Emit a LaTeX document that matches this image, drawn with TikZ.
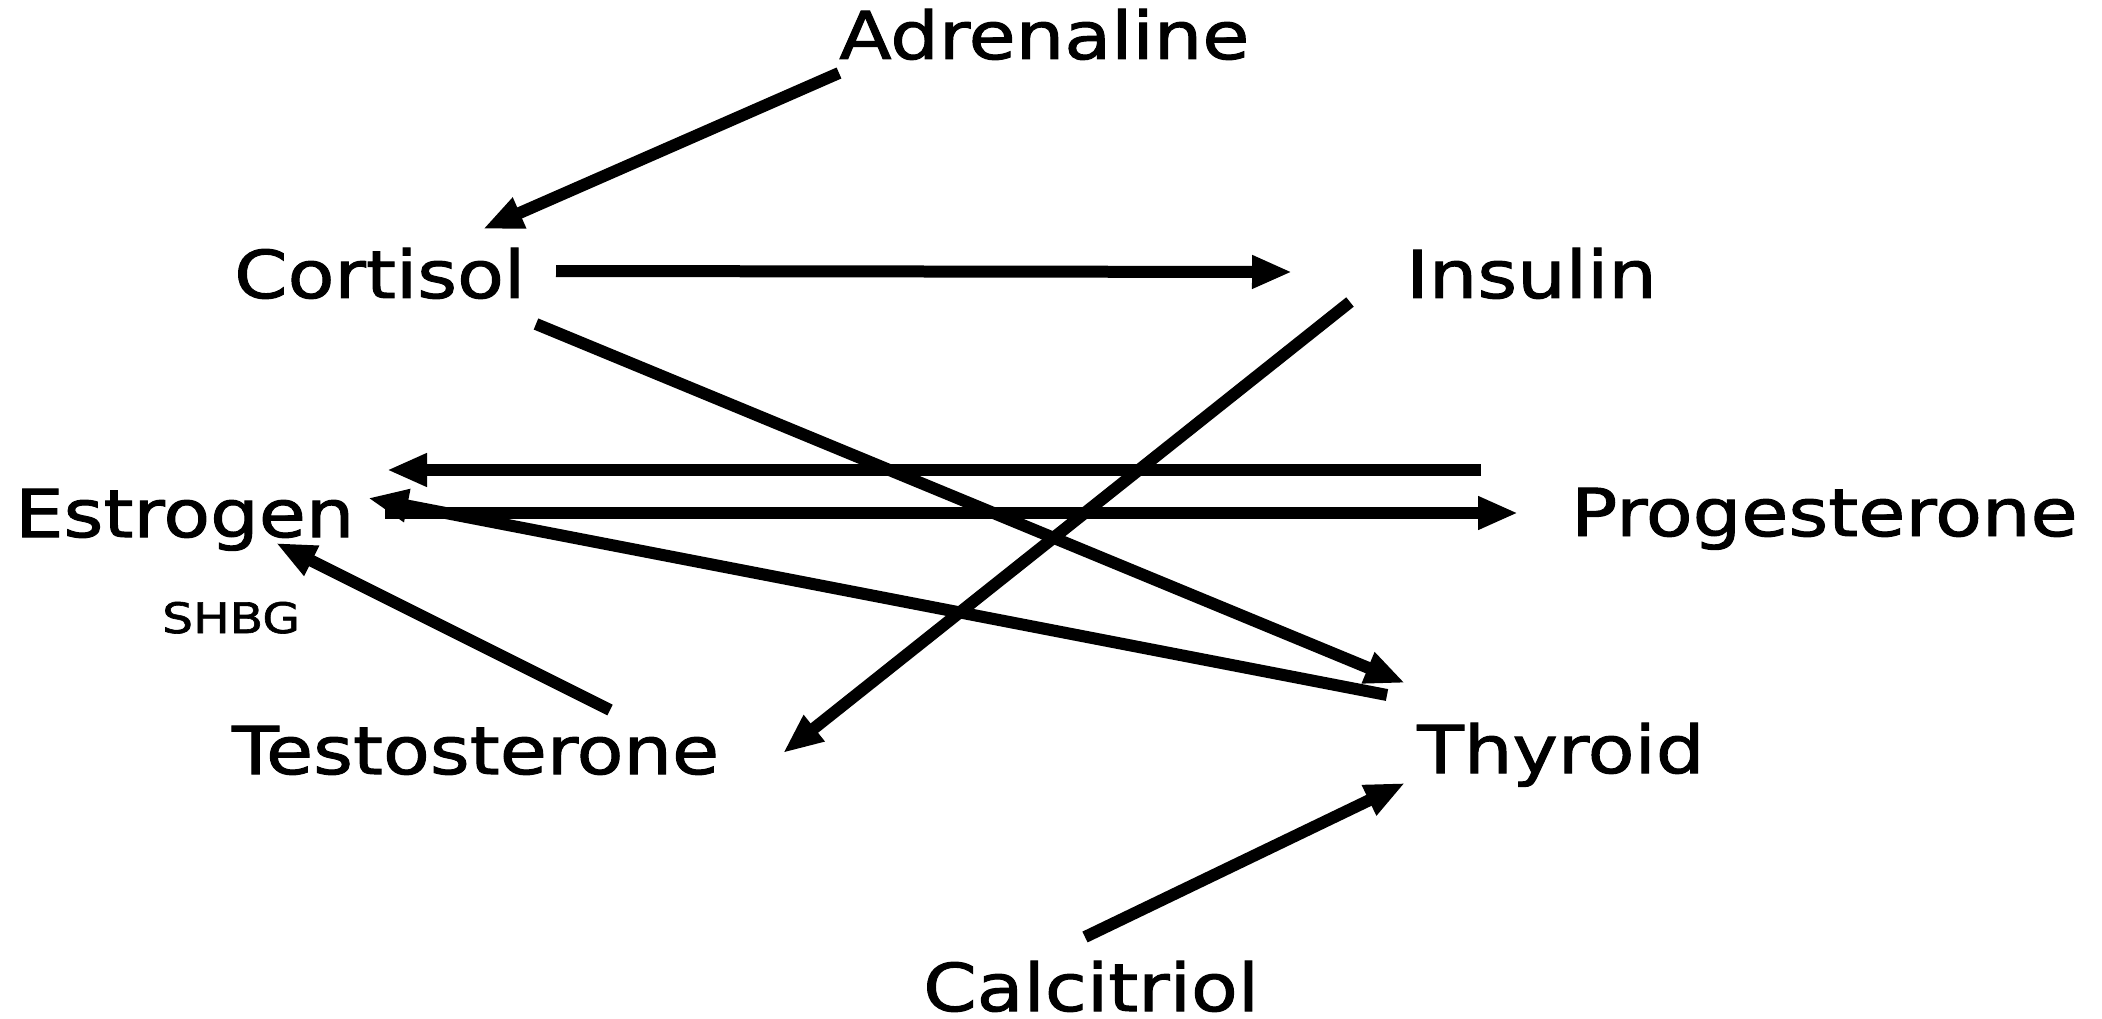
\documentclass[tikz,border=0pt]{standalone}
\usepackage{fontspec}
\setmainfont{DejaVu Sans}[FakeStretch=1.16, FakeBold=1.5]
\usetikzlibrary{arrows.meta}

\begin{document}
\begin{tikzpicture}[x=1pt, y=-1pt,
        hormone/.style={inner sep=0pt, anchor=base west, font=\fontsize{66}{70}\selectfont},
        note/.style={inner sep=0pt, anchor=base west, font=\fontsize{42}{46}\selectfont},
        arr/.style={line width=12pt, -{Triangle[length=40pt, width=31pt]}}]
    \useasboundingbox (0, 0) rectangle (2102, 1019);

    \node[hormone] (adrenaline) at (839, 59) {Adrenaline};
    \node[hormone] (cortisol) at (234, 298) {Cortisol};
    \node[hormone] (insulin) at (1406, 298) {Insulin};
    \node[hormone] (estrogen) at (15, 537) {Estrogen};
    \node[hormone] (progesterone) at (1571, 536) {Progesterone};
    \node[note] (shbg) at (162, 633) {SHBG};
    \node[hormone] (testosterone) at (232, 774) {Testosterone};
    \node[hormone] (thyroid) at (1417, 773) {Thyroid};
    \node[hormone] (calcitriol) at (923, 1011) {Calcitriol};

    \draw[arr] ([shift={(0, 14)}]adrenaline.base west) -- ([shift={(249, -69)}]cortisol.base west);
    \draw[arr] ([shift={(322, -27)}]cortisol.base west) -- ([shift={(-114, -26)}]insulin.base west);
    \draw[arr] ([shift={(302, 26)}]cortisol.base west) -- ([shift={(-12, -90)}]thyroid.base west);
    \draw[arr] ([shift={(-56, 4)}]insulin.base west) -- ([shift={(551, -21)}]testosterone.base west);

    \draw[arr] ([shift={(-90, -66)}]progesterone.base west) -- ([shift={(372, -67)}]estrogen.base west);
    \draw[arr] ([shift={(370, -24)}]estrogen.base west) -- ([shift={(-53, -23)}]progesterone.base west);
    \draw[arr] ([shift={(-30, -78)}]thyroid.base west) -- ([shift={(353, -39)}]estrogen.base west);
    \draw[arr] ([shift={(378, -64)}]testosterone.base west) -- ([shift={(261, 6)}]estrogen.base west);

    \draw[arr] ([shift={(162, -74)}]calcitriol.base west) -- ([shift={(-12, 10)}]thyroid.base west);
\end{tikzpicture}
\end{document}
